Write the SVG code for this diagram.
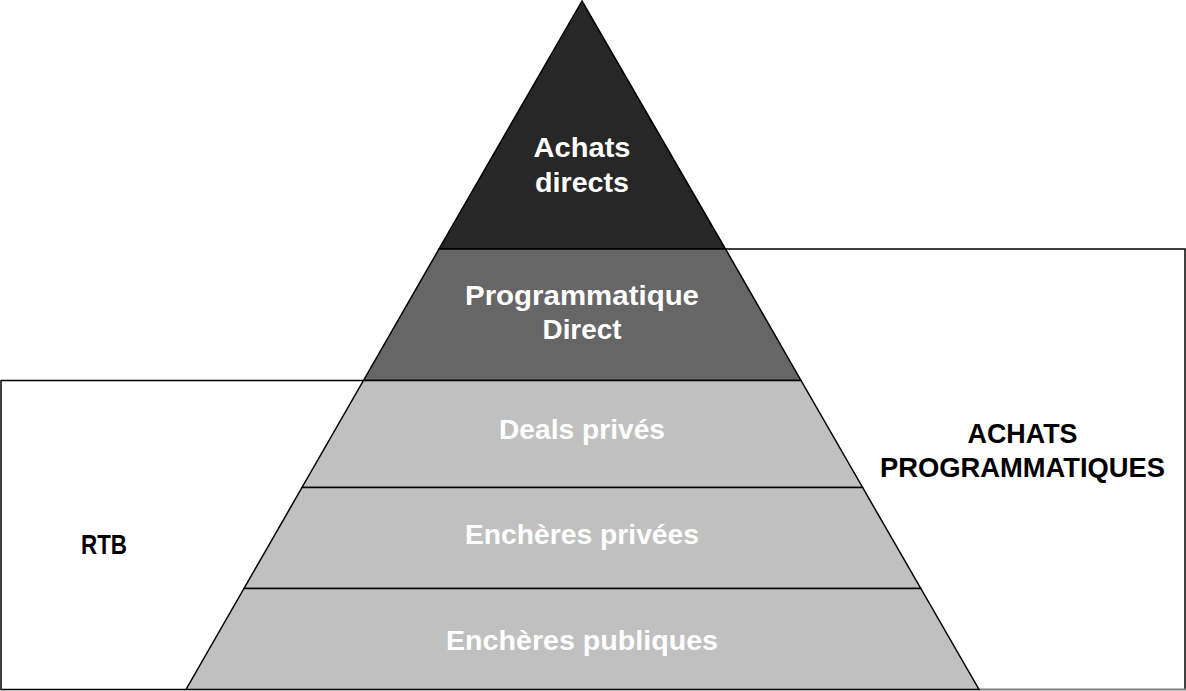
<svg xmlns="http://www.w3.org/2000/svg" width="1186" height="691" viewBox="0 0 1186 691">
<style>
.band{stroke:#000;stroke-width:1.5;stroke-linejoin:miter}
.box{fill:none;stroke:#000;stroke-width:1.5}
.in{font-family:"Liberation Sans",Arial,sans-serif;font-weight:bold;font-size:28px;fill:#fff;text-anchor:middle}
.out{font-family:"Liberation Sans",Arial,sans-serif;font-weight:bold;font-size:28px;fill:#000;text-anchor:middle}
</style>
<rect width="1186" height="691" fill="#fff"/>
<g id="boxes">
<g id="box-achats-programmatiques"><polyline class="box" points="725,249 1185,249 1185,689.5"/><line x1="979" y1="689.5" x2="1186" y2="689.5" stroke="#808080" stroke-width="2"/></g>
<g id="box-rtb"><polyline class="box" points="363,380.5 1,380.5 1,689.5 186,689.5"/></g>
</g>
<g id="connectors"></g>
<g id="pyramid">
<g id="achats-directs">
<polygon class="band" fill="#272727" points="582,1 439,249 725.5,249"/>
<text class="in" x="582" y="157" textLength="97" lengthAdjust="spacingAndGlyphs">Achats</text>
<text class="in" x="582" y="192" textLength="94" lengthAdjust="spacingAndGlyphs">directs</text>
</g>
<g id="programmatique-direct">
<polygon class="band" fill="#666" points="439,249 725.5,249 801,380.5 363.5,380.5"/>
<text class="in" x="582" y="305" textLength="234" lengthAdjust="spacingAndGlyphs">Programmatique</text>
<text class="in" x="582" y="339" textLength="79" lengthAdjust="spacingAndGlyphs">Direct</text>
</g>
<g id="deals-prives">
<polygon class="band" fill="#c0c0c0" points="363.5,380.5 801,380.5 862.6,487.5 302,487.5"/>
<text class="in" x="582" y="439" textLength="166" lengthAdjust="spacingAndGlyphs">Deals privés</text>
</g>
<g id="encheres-privees">
<polygon class="band" fill="#c0c0c0" points="302,487.5 862.6,487.5 920.8,588.5 244,588.5"/>
<text class="in" x="582" y="544" textLength="234" lengthAdjust="spacingAndGlyphs">Enchères privées</text>
</g>
<g id="encheres-publiques">
<polygon class="band" fill="#c0c0c0" points="244,588.5 920.8,588.5 979,689.5 186,689.5"/>
<text class="in" x="582" y="650" textLength="272" lengthAdjust="spacingAndGlyphs">Enchères publiques</text>
</g>
</g>
<g id="labels">
<g id="label-achats-programmatiques">
<text class="out" x="1022.5" y="443" textLength="110" lengthAdjust="spacingAndGlyphs">ACHATS</text>
<text class="out" x="1022.5" y="477" textLength="285" lengthAdjust="spacingAndGlyphs">PROGRAMMATIQUES</text>
</g>
<g id="label-rtb">
<text class="out" x="104" y="554" textLength="46" lengthAdjust="spacingAndGlyphs">RTB</text>
</g>
</g>
</svg>
